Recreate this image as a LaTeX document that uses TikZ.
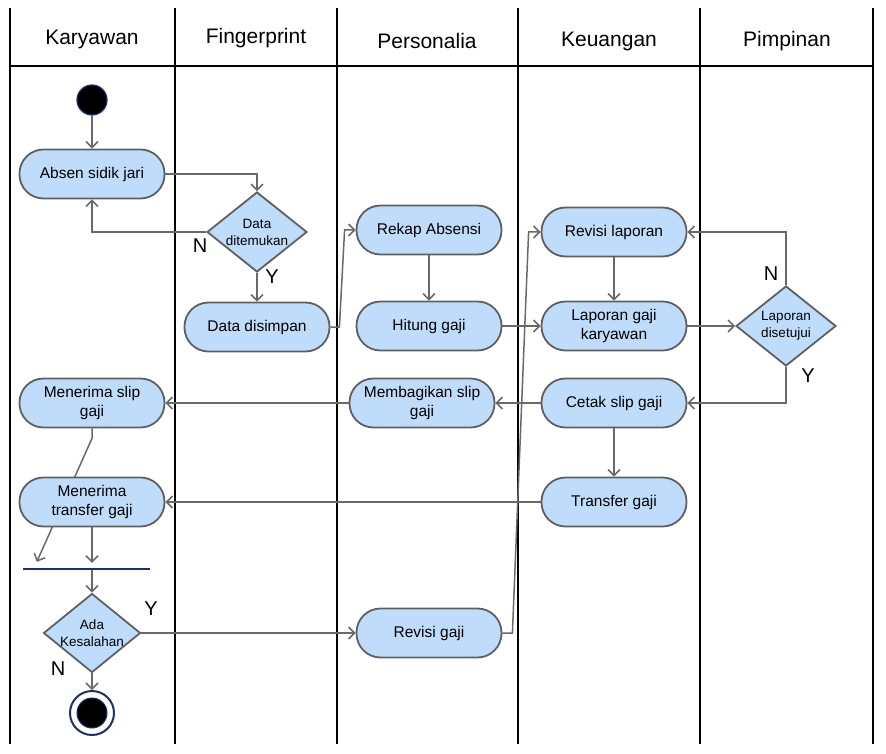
\documentclass[tikz,border=0pt]{standalone}
\usepackage{fontspec}
\setmainfont{Liberation Sans}
\usetikzlibrary{arrows.meta,shapes.geometric,backgrounds,calc}
\definecolor{boxfill}{HTML}{BFDDFB}
\definecolor{edgec}{HTML}{5F5F5F}
\definecolor{navyc}{HTML}{1F2F6F}
\definecolor{conn}{HTML}{696969}
\begin{document}
\begin{tikzpicture}[x=1pt,y=-1pt,
 act/.style={draw=edgec, line width=1.8pt, fill=boxfill, rounded corners=24pt, minimum width=145pt, minimum height=49pt, align=center, font=\fontsize{15.5}{19}\selectfont, inner sep=2pt},
 dec/.style={diamond, aspect=1.25, draw=edgec, line width=1.8pt, fill=boxfill, minimum width=100pt, minimum height=80pt, align=center, font=\fontsize{13.5}{17}\selectfont, inner sep=-2pt},
 flow/.style={draw=conn, line width=1.5pt, -{Straight Barb[length=6pt,width=12pt]}},
 lane/.style={draw=black, line width=1.8pt},
 hdr/.style={font=\fontsize{21}{24}\selectfont},
 yn/.style={font=\fontsize{20}{23}\selectfont, inner sep=0pt}
]
\useasboundingbox (0,0) rectangle (886,754);
% headers
\node[hdr] (h1) at (92,39) {Karyawan};
\node[hdr] (h2) at (256,38) {Fingerprint};
\node[hdr] (h3) at (427,41) {Personalia};
\node[hdr] (h4) at (609,41) {Keuangan};
\node[hdr] (h5) at (787,41) {Pimpinan};
% nodes
\node[circle, fill=black, draw=navyc, line width=1.2pt, minimum size=30pt, inner sep=0pt] (start) at (92,100) {};
\node[act] (absen) at (92,174) {Absen sidik jari};
\node[dec] (d1) at (257,232) {Data\\ditemukan};
\node[act] (simpan) at (257,327) {Data disimpan};
\node[act] (rekap) at (429,230) {Rekap Absensi};
\node[act] (hitung) at (429,326) {Hitung gaji};
\node[act] (revlap) at (614,232) {Revisi laporan};
\node[act] (lapgaji) at (614,326) {Laporan gaji\\karyawan};
\node[dec] (d2) at (786,326) {Laporan\\disetujui};
\node[act] (cetak) at (614,403) {Cetak slip gaji};
\node[act] (transfer) at (614,502) {Transfer gaji};
\node[act] (bagi) at (422,403) {Membagikan slip\\gaji};
\node[act] (mslip) at (92,403) {Menerima slip\\gaji};
\node[act] (mtrans) at (92,502) {Menerima\\transfer gaji};
\node[fill=navyc, minimum width=127pt, minimum height=2pt, inner sep=0pt] (bar) at (86.5,569) {};
\node[dec, minimum width=97pt, minimum height=79pt] (d3) at (92,633) {Ada\\Kesalahan};
\node[act] (revgaji) at (429,633) {Revisi gaji};
\node[circle, draw=navyc, line width=2pt, fill=white, minimum size=44pt, inner sep=0pt,
  path picture={\filldraw[fill=black, draw=navyc, line width=1pt] (path picture bounding box.center) circle (15pt);}] (end) at (92,713) {};
% labels
\node[yn] (n1) at (200,246) {N};
\node[yn] (y1) at (272,277) {Y};
\node[yn] (n2) at (771,274) {N};
\node[yn] (y2) at (808,376) {Y};
\node[yn] (y3) at (151,609) {Y};
\node[yn] (n3) at (58,669) {N};
\begin{scope}[on background layer]
% lanes
\draw[lane] (10,8) -- (10,744);
\draw[lane] (175,8) -- (175,744);
\draw[lane] (337,8) -- (337,744);
\draw[lane] (518,8) -- (518,744);
\draw[lane] (700,8) -- (700,744);
\draw[lane] (873,8) -- (873,744);
\draw[draw=black, line width=2.4pt] (10,66) -- (873,66);
% connectors
\draw[flow] (start) -- (absen);
\draw[flow] (absen.east) -| (d1.north);
\draw[flow] (d1.west) -| (absen.south);
\draw[flow] (d1.south) -- (simpan.north);
\draw[flow] (simpan.east) -- ++(9,0) -- ($(rekap.west)+(-11,0)$) -- (rekap.west);
\draw[flow] (rekap) -- (hitung);
\draw[flow] (hitung) -- (lapgaji);
\draw[flow] (revlap) -- (lapgaji);
\draw[flow] (lapgaji) -- (d2);
\draw[flow] (d2.north) |- (revlap.east);
\draw[flow] (d2.south) |- (cetak.east);
\draw[flow] (cetak) -- (transfer);
\draw[flow] (cetak) -- (bagi);
\draw[flow] (bagi) -- (mslip);
\draw[flow] (transfer) -- (mtrans);
\draw[flow] (mslip.south) -- ++(0,10) -- ($(bar.north west)+(14,-6)$);
\draw[flow, shorten >=5pt] (mtrans.south) -- (mtrans.south |- bar.north);
\draw[flow] (bar.south -| d3.north) -- (d3.north);
\draw[flow] (d3) -- (revgaji);
\draw[flow] (d3.south) -- (end.north);
\draw[flow] (revgaji.east) -- ++(10,0) -- ($(revlap.west)+(-12,0)$) -- (revlap.west);
\end{scope}
\end{tikzpicture}
\end{document}
